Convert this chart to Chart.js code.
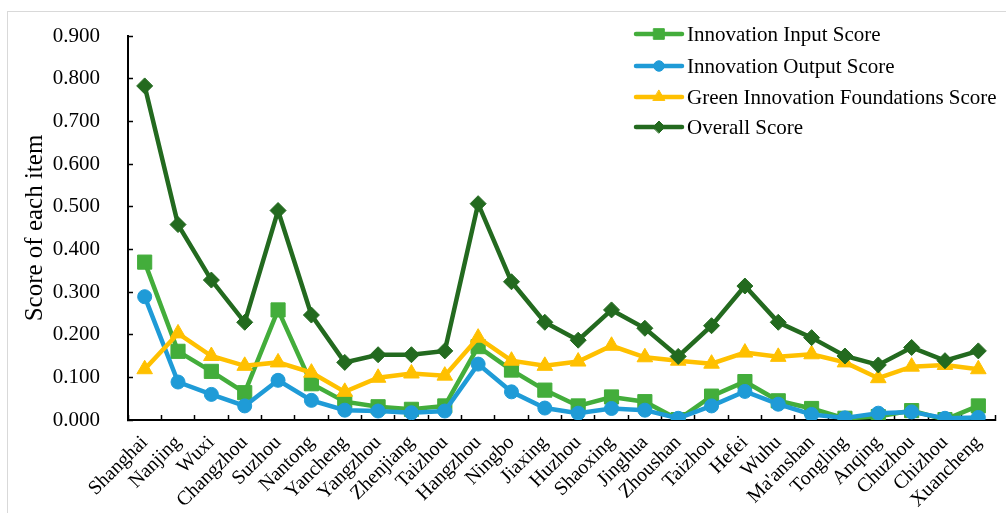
<!DOCTYPE html>
<html>
<head>
<meta charset="utf-8">
<script src="https://cdn.jsdelivr.net/npm/chart.js@4/dist/chart.umd.min.js"></script>
<style>
  body { margin: 0; background: #fff; overflow: hidden; }
  #frame { position: absolute; left: 7px; top: 11px; width: 1100px; height: 600px; border: 1px solid #d9d9d9; }
  #scoreChart { position: absolute; left: 0; top: 0; }
</style>
</head>
<body>
<div id="frame"></div>
<canvas id="scoreChart" width="1006" height="513"></canvas>
<script>
const cities = [
  "Shanghai", "Nanjing", "Wuxi", "Changzhou", "Suzhou", "Nantong", "Yancheng",
  "Yangzhou", "Zhenjiang", "Taizhou", "Hangzhou", "Ningbo", "Jiaxing", "Huzhou",
  "Shaoxing", "Jinghua", "Zhoushan", "Taizhou", "Hefei", "Wuhu", "Ma'anshan",
  "Tongling", "Anqing", "Chuzhou", "Chizhou", "Xuancheng"
];

const inputScore = [
  0.370, 0.161, 0.114, 0.064, 0.258, 0.085, 0.043, 0.031, 0.025, 0.033, 0.172,
  0.117, 0.070, 0.033, 0.054, 0.043, 0.001, 0.056, 0.090, 0.045, 0.027,
  0.004, 0.008, 0.022, 0.001, 0.033
];

const outputScore = [
  0.289, 0.089, 0.060, 0.033, 0.093, 0.046, 0.023, 0.021, 0.017, 0.021, 0.131,
  0.066, 0.028, 0.016, 0.027, 0.023, 0.004, 0.033, 0.067, 0.037, 0.013,
  0.005, 0.016, 0.019, 0.004, 0.006
];

const greenScore = [
  0.119, 0.203, 0.150, 0.127, 0.135, 0.111, 0.066, 0.099, 0.109, 0.104, 0.193,
  0.139, 0.127, 0.137, 0.174, 0.147, 0.139, 0.132, 0.158, 0.148, 0.154,
  0.135, 0.098, 0.125, 0.129, 0.119
];

const overallScore = [
  0.783, 0.458, 0.328, 0.229, 0.491, 0.246, 0.135, 0.153, 0.153, 0.162, 0.507,
  0.324, 0.229, 0.187, 0.258, 0.215, 0.149, 0.221, 0.314, 0.229, 0.193,
  0.150, 0.129, 0.170, 0.139, 0.162
];

const yTicks = [0, 0.1, 0.2, 0.3, 0.4, 0.5, 0.6, 0.7, 0.8, 0.9];

const serif = "'Liberation Serif', 'Times New Roman', serif";

function series(label, data, color, style, radius, order) {
  return {
    label: label,
    data: data,
    borderColor: color,
    backgroundColor: color,
    pointBackgroundColor: color,
    pointBorderColor: color,
    pointStyle: style,
    pointRadius: radius,
    pointHoverRadius: radius,
    pointBorderWidth: 1,
    borderWidth: 4.5,
    tension: 0,
    order: order
  };
}

const datasets = [
  series("Innovation Input Score", inputScore, "#43ad3b", "rect", 10, 4),
  series("Innovation Output Score", outputScore, "#1f9bd7", "circle", 7, 3),
  series("Green Innovation Foundations Score", greenScore, "#ffc000", "triangle", 9, 2),
  series("Overall Score", overallScore, "#236a1f", "rectRot", 8, 1)
];

// line + marker legend drawn inside the plot, top right
const lineLegend = {
  id: "lineLegend",
  afterDatasetsDraw(chart) {
    const ctx = chart.ctx;
    const x0 = 636;
    const rows = [34, 66, 97, 127];
    ctx.save();
    ctx.font = "21px " + serif;
    ctx.textBaseline = "middle";
    ctx.textAlign = "left";
    datasets.forEach((ds, i) => {
      const y = rows[i];
      ctx.strokeStyle = ds.borderColor;
      ctx.lineWidth = 4.5;
      ctx.lineCap = "round";
      ctx.beginPath();
      ctx.moveTo(x0, y);
      ctx.lineTo(x0 + 46, y);
      ctx.stroke();
      ctx.fillStyle = ds.pointBackgroundColor;
      ctx.strokeStyle = ds.pointBorderColor;
      ctx.lineWidth = 1;
      Chart.helpers.drawPoint(ctx, {
        pointStyle: ds.pointStyle,
        radius: ds.pointRadius * 0.75,
        rotation: 0,
        borderWidth: 1
      }, x0 + 23, y);
      ctx.fillStyle = "#000";
      ctx.fillText(ds.label, x0 + 51, y + 1);
    });
    ctx.restore();
  }
};

const ctx = document.getElementById("scoreChart").getContext("2d");

new Chart(ctx, {
  type: "line",
  data: {
    labels: cities,
    datasets: datasets
  },
  plugins: [lineLegend],
  options: {
    responsive: false,
    animation: false,
    layout: {
      padding: { left: 10, top: 36, right: 8, bottom: 0 }
    },
    plugins: {
      legend: { display: false },
      tooltip: { enabled: false }
    },
    scales: {
      x: {
        offset: true,
        afterFit(scale) {
          scale.height = 93;
          scale.paddingRight = 0;
        },
        grid: {
          offset: true,
          drawOnChartArea: false,
          tickLength: -5,
          tickWidth: 1.5,
          tickColor: "#000"
        },
        border: { color: "#000", width: 2 },
        ticks: {
          autoSkip: false,
          maxRotation: 45,
          minRotation: 45,
          padding: 16,
          color: "#000",
          font: { family: serif, size: 20 }
        }
      },
      y: {
        min: 0,
        max: 0.9,
        afterFit(scale) {
          scale.width = 118;
          // the wide label gap would otherwise push the plot top down
          scale.paddingTop = 0;
          scale.paddingBottom = 0;
        },
        afterBuildTicks(scale) {
          scale.ticks = yTicks.map(v => ({ value: v }));
        },
        grid: {
          drawOnChartArea: false,
          tickLength: -5,
          tickWidth: 1.5,
          tickColor: "#000"
        },
        border: { color: "#000", width: 2 },
        ticks: {
          padding: 33,
          color: "#000",
          font: { family: serif, size: 21 },
          callback: v => Number(v).toFixed(3)
        },
        title: {
          display: true,
          text: "Score of each item",
          color: "#000",
          padding: { top: 10, bottom: 0 },
          font: { family: serif, size: 25 }
        }
      }
    }
  }
});
</script>
</body>
</html>
